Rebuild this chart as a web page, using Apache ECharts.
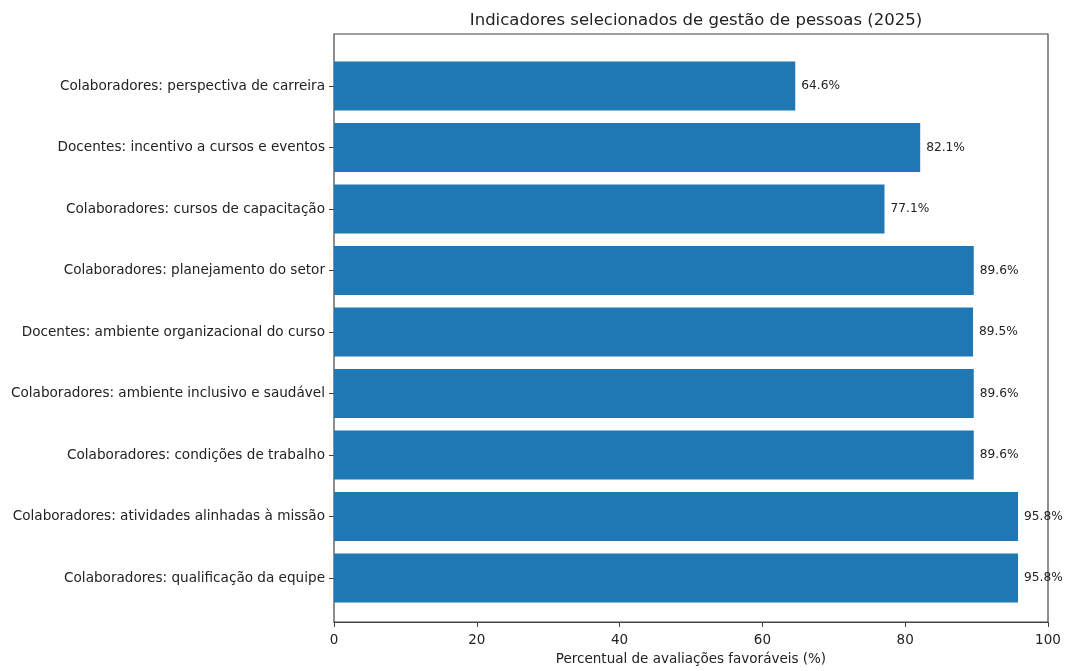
<!DOCTYPE html>
<html><head><meta charset="utf-8">
<script src="https://cdn.jsdelivr.net/npm/echarts@6/dist/echarts.min.js"></script>
<style>html,body{margin:0;padding:0;background:#fff}#c{width:1065px;height:671px}</style>
</head><body><div id="c"></div>
<script>
const categories = [
  "Colaboradores: perspectiva de carreira",
  "Docentes: incentivo a cursos e eventos",
  "Colaboradores: cursos de capacitação",
  "Colaboradores: planejamento do setor",
  "Docentes: ambiente organizacional do curso",
  "Colaboradores: ambiente inclusivo e saudável",
  "Colaboradores: condições de trabalho",
  "Colaboradores: atividades alinhadas à missão",
  "Colaboradores: qualificação da equipe"
];
const values = [64.6, 82.1, 77.1, 89.6, 89.5, 89.6, 89.6, 95.8, 95.8];
const xTicks = [0, 20, 40, 60, 80, 100];

const font = 'DejaVu Sans';
const chart = echarts.init(document.getElementById('c'), null, {renderer: 'canvas'});
chart.setOption({
  animation: false,
  textStyle: {fontFamily: font},
  title: {
    text: 'Indicadores selecionados de gestão de pessoas (2025)',
    left: 691, top: 7, textAlign: 'center',
    textStyle: {fontFamily: font, fontSize: 16.5, fontWeight: 'normal', color: '#222'}
  },
  grid: [
    {left: 334, right: 17, top: 34, bottom: 42, show: true, borderColor: '#444', borderWidth: 1.2, backgroundColor: 'transparent'},
    {left: 334, right: 17, top: 55.25, bottom: 62.25}
  ],
  xAxis: [
    {
      gridIndex: 0, type: 'value', min: 0, max: 100, interval: 20,
      name: 'Percentual de avaliações favoráveis (%)', nameLocation: 'middle', nameGap: 30,
      nameTextStyle: {fontFamily: font, fontSize: 13.5, color: '#222'},
      axisLine: {show: true, lineStyle: {color: '#444', width: 1.2}},
      axisTick: {show: true, length: 5, lineStyle: {color: '#444'}},
      axisLabel: {fontFamily: font, fontSize: 13.5, color: '#222', margin: 11,
        formatter: v => xTicks.includes(v) ? String(v) : ''},
      splitLine: {show: false}
    },
    {gridIndex: 1, type: 'value', min: 0, max: 100, show: false}
  ],
  yAxis: [
    {gridIndex: 0, type: 'value', show: false},
    {
      gridIndex: 1, type: 'category', data: categories, inverse: true,
      axisLine: {show: false},
      axisTick: {show: true, alignWithLabel: true, length: 5, lineStyle: {color: '#444'}},
      axisLabel: {fontFamily: font, fontSize: 13.6, color: '#222', margin: 9}
    }
  ],
  series: [{
    type: 'bar', xAxisIndex: 1, yAxisIndex: 1,
    data: values, barWidth: '80%',
    itemStyle: {color: '#1f77b4'},
    label: {show: true, position: 'right', distance: 6,
      formatter: p => p.value.toFixed(1) + '%',
      fontFamily: font, fontSize: 12.2, color: '#222'}
  }]
});
</script></body></html>
